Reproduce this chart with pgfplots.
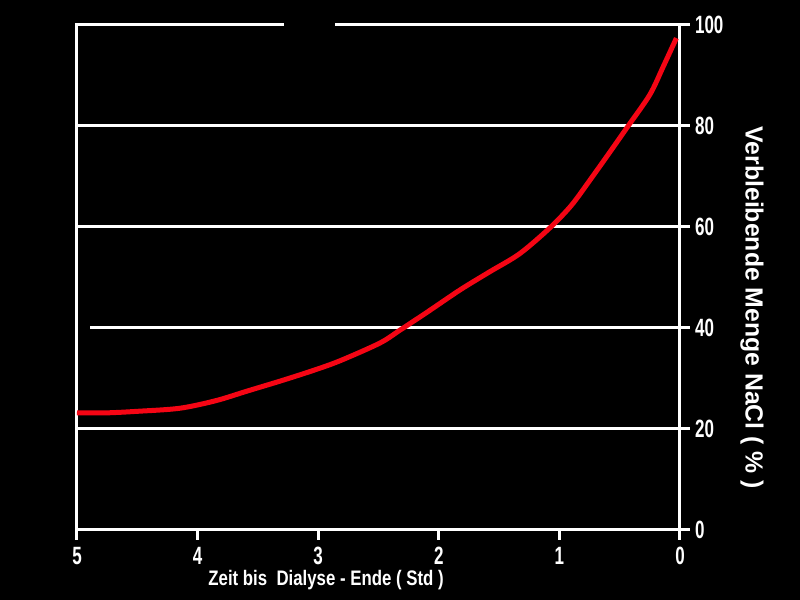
\documentclass[border=0pt]{standalone}
\usepackage{pgfplots}
\pgfplotsset{compat=1.18}
\usepackage{fontspec}
\setmainfont{Liberation Sans}
\newfontfamily\tickfont{Liberation Sans}[FakeStretch=0.68]
\newfontfamily\xlabfont{Liberation Sans}[FakeStretch=0.8]
\definecolor{curvered}{RGB}{245,5,20}

\begin{document}
\begin{tikzpicture}
\fill[black] (0,0) rectangle (400pt,300pt);
\useasboundingbox (0,0) rectangle (400pt,300pt);
\begin{axis}[
    at={(38.5pt,35pt)}, anchor=south west,
    scale only axis,
    width=301.5pt, height=252.5pt,
    xmin=0, xmax=5, ymin=0, ymax=100,
    x dir=reverse,
    clip=false,
    axis line style={white, line width=1.5pt},
    xtick={0,1,2,3,4,5},
    ytick={0,20,40,60,80,100},
    xtick pos=lower, ytick pos=upper,
    yticklabel pos=upper,
    tick align=outside,
    major tick length=5pt,
    tick style={white, line width=1.5pt},
    /pgf/number format/assume math mode=true,
    ticklabel style={text=white, font=\tickfont\bfseries\fontsize{12.5}{12.5}\selectfont},
    yticklabel style={anchor=west, xshift=-1pt},
]
% grid lines
\addplot[white, line width=1.5pt] coordinates {(5,20) (0,20)};
\addplot[white, line width=1.5pt] coordinates {(4.89,40) (0,40)};
\addplot[white, line width=1.5pt] coordinates {(5,60) (0,60)};
\addplot[white, line width=1.5pt] coordinates {(5,80) (0,80)};
% gap in the top line
\addplot[black, line width=3pt] coordinates {(3.28,100) (2.86,100)};

\addplot[curvered, line width=2.5pt, smooth, tension=0.5] coordinates {
  (5,23.2) (4.75,23.2) (4.5,23.5) (4.15,24.1) (3.85,25.6) (3.59,27.5)
  (3.3,29.6) (3.04,31.6) (2.82,33.5) (2.49,37.0) (2.32,39.6) (2.08,43.4)
  (1.82,47.6) (1.58,51.1) (1.33,54.7) (1.08,59.8) (0.9,64.3) (0.746,69.3)
  (0.6,74.2) (0.43,80) (0.25,86.2) (0.14,91.7) (0.03,97.4)
};

\node[text=white, font=\xlabfont\bfseries\fontsize{10.5}{10.5}\selectfont]
  at (axis cs:2.935,0) [yshift=-25pt] {Zeit bis\ \ Dialyse - Ende ( Std )};
\node[xshift=36pt, text=white, rotate=-90, font=\bfseries\fontsize{12.4}{12.4}\selectfont]
  at (axis cs:0,44) {Verbleibende Menge NaCl ( \% )};
\end{axis}
\end{tikzpicture}
\end{document}
